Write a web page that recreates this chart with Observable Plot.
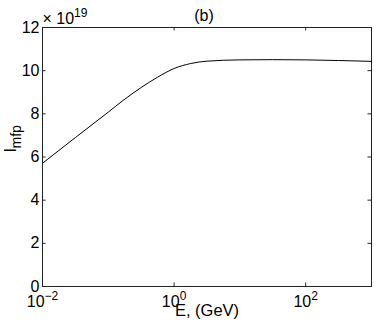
<!DOCTYPE html>
<html><head><meta charset="utf-8">
<script src="https://cdn.jsdelivr.net/npm/d3@7"></script>
<script src="https://cdn.jsdelivr.net/npm/@observablehq/plot@0.6"></script>
<style>html,body{margin:0;padding:0;background:#fff} svg{display:block}</style>
</head><body><div id="chart"></div>
<script>
// Data (l_mfp in units of 10^19)
const energyGeV = [0.01, 0.0316, 0.1, 0.166, 0.316, 0.562, 1, 1.78, 3.16, 10, 31.6, 100, 316, 1000];
const lmfp = [5.71, 6.9, 8.08, 8.61, 9.22, 9.7, 10.1, 10.33, 10.44, 10.5, 10.51, 10.5, 10.47, 10.43];
const xTicks = [0.01, 1, 100];
const xTickLabels = ["10^{−2}", "10^{0}", "10^{2}"];
const yTicks = [0, 2, 4, 6, 8, 10, 12];
const titleText = "(b)";
const xLabel = "E, (GeV)";
const yLabel = "l_{mfp}";
const multiplierText = "× 10^{19}";

const W = 374, H = 322, mL = 42, mR = 3, mT = 27, mB = 36;
const innerW = W - mL - mR, innerH = H - mT - mB, tickLen = 3.5;
const ink = "#222";
const rows = energyGeV.map((e, i) => ({e, v: lmfp[i]}));

const chart = Plot.plot({
  width: W, height: H,
  marginLeft: mL, marginRight: mR, marginTop: mT, marginBottom: mB,
  style: {fontFamily: "'Liberation Sans', Arial, Helvetica, sans-serif", fontSize: "16px", color: "#000", background: "#fff", overflow: "visible"},
  x: {type: "log", domain: [0.01, 1000]},
  y: {domain: [0, 12]},
  marks: [
    Plot.tickX(xTicks, {x: d => d, insetTop: innerH - tickLen, stroke: ink}),
    Plot.tickX(xTicks, {x: d => d, insetBottom: innerH - tickLen, stroke: ink}),
    Plot.tickY(yTicks, {y: d => d, insetRight: innerW - tickLen, stroke: ink}),
    Plot.tickY(yTicks, {y: d => d, insetLeft: innerW - tickLen, stroke: ink}),
    Plot.frame({stroke: ink}),
    Plot.axisX(xTicks, {tickSize: 0, tickPadding: 9, fontSize: 16, label: null,
      tickFormat: d => xTickLabels[xTicks.indexOf(d)]}),
    Plot.axisY(yTicks, {tickSize: 0, tickPadding: 3, fontSize: 16, label: null}),
    Plot.line(rows, {x: "e", y: "v", curve: "monotone-x", stroke: "#000", strokeWidth: 1}),
    Plot.text([titleText], {frameAnchor: "top", lineAnchor: "bottom", dy: -7, dx: -3, fontSize: 16}),
    Plot.text([multiplierText], {frameAnchor: "top-left", textAnchor: "start", lineAnchor: "bottom", dy: -4, dx: 0, fontSize: 16}),
    Plot.text([xLabel], {frameAnchor: "bottom", lineAnchor: "bottom", dy: 29, fontSize: 16.5}),
    Plot.text([yLabel], {frameAnchor: "left", rotate: -90, lineAnchor: "bottom", dx: -27, dy: -5, fontSize: 16})
  ]
});

// Turn "a^{b}" / "a_{b}" into super/subscript tspans
function richify(svg) {
  const walker = document.createTreeWalker(svg, NodeFilter.SHOW_TEXT);
  const nodes = [];
  while (walker.nextNode()) nodes.push(walker.currentNode);
  const NS = "http://www.w3.org/2000/svg";
  for (const n of nodes) {
    const m = n.nodeValue.match(/^(.*?)([\^_])\{(.*?)\}(.*)$/);
    if (!m) continue;
    const parent = n.parentNode;
    const sup = m[2] === "^";
    const shift = sup ? -7 : 5;
    const t1 = document.createTextNode(m[1]);
    const ts = document.createElementNS(NS, "tspan");
    ts.setAttribute("font-size", sup ? 12 : 14);
    ts.setAttribute("dy", shift);
    ts.textContent = m[3];
    parent.replaceChild(t1, n);
    parent.insertBefore(ts, t1.nextSibling);
    if (m[4]) {
      const ts2 = document.createElementNS(NS, "tspan");
      ts2.setAttribute("dy", -shift);
      ts2.textContent = m[4];
      parent.insertBefore(ts2, ts.nextSibling);
    }
  }
}
richify(chart);
document.getElementById("chart").appendChild(chart);
</script>
</body></html>
